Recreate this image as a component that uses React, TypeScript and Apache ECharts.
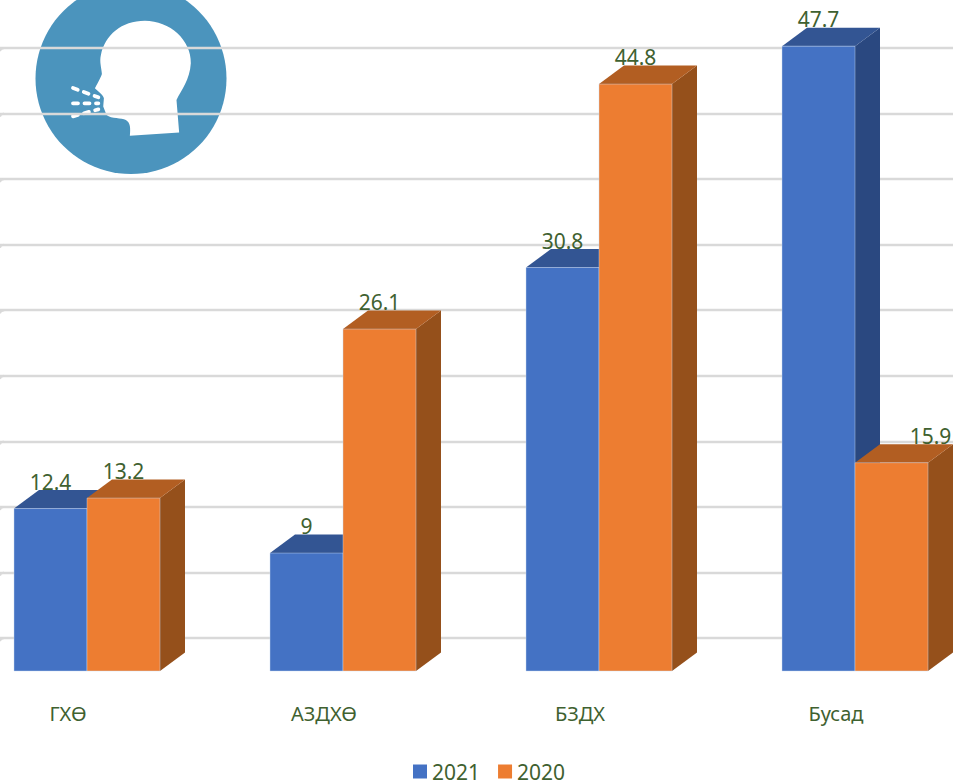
import React, { useEffect, useRef } from "react";
import * as echarts from "echarts";

const categories = ["ГХӨ", "АЗДХӨ", "БЗДХ", "Бусад"];
const values2021 = [12.4, 9, 30.8, 47.7];
const values2020 = [13.2, 26.1, 44.8, 15.9];
const gridTicks = [0, 5, 10, 15, 20, 25, 30, 35, 40, 45];

const FONT = "'Noto Sans', sans-serif";
const TEXT = "#3F6130";
const BAR_W = 73;
const DX = 25;
const DY = 18.5;

const HEAD =
  "M390 408 L538 398 L530 300 C545 270 570 240 573 190 C575 120 510 62 435 62 C365 62 315 105 303 165 C298 185 305 205 306 222 C302 235 290 255 285 265 C295 275 310 285 312 295 L310 320 L320 345 C335 358 365 352 378 360 C392 368 392 385 390 408 Z";

function makeBar(front: string, top: string, side: string, start: number) {
  return (_p: any, api: any) => {
    const i = api.value(0);
    const v = api.value(1);
    const c = api.coord([i, v]);
    const b = api.coord([i, 0]);
    const x = c[0] + start;
    const y = c[1];
    const y0 = b[1];
    const edge = { stroke: "rgba(200,215,240,0.55)", lineWidth: 0.8 };
    return {
      type: "group",
      children: [
        { type: "polygon", shape: { points: [[x + BAR_W, y], [x + BAR_W + DX, y - DY], [x + BAR_W + DX, y0 - DY], [x + BAR_W, y0]] }, style: { fill: side } },
        { type: "polygon", shape: { points: [[x, y], [x + DX, y - DY], [x + BAR_W + DX, y - DY], [x + BAR_W, y]] }, style: { fill: top } },
        { type: "rect", shape: { x, y, width: BAR_W, height: y0 - y }, style: { fill: front, ...edge } },
      ],
    };
  };
}

function makeLabel(start: number, labelShift: (i: number) => number) {
  return (_p: any, api: any) => {
    const i = api.value(0);
    const v = api.value(1);
    const c = api.coord([i, v]);
    return {
      type: "text",
      x: c[0] + start + BAR_W / 2 + labelShift(i),
      y: c[1] - 27,
      style: { text: String(v), fill: TEXT, font: `21px ${FONT}`, align: "center", verticalAlign: "middle" },
    };
  };
}

export default function App() {
  const ref = useRef<HTMLDivElement>(null);
  useEffect(() => {
    document.body.style.margin = "0";
    echarts.graphic.registerShape("headShape", echarts.graphic.extendPath(HEAD as any, {}) as any);
    const chart = echarts.init(ref.current!, null, { renderer: "svg" });
    const puff = (x1: number, y1: number, x2: number, y2: number) => ({
      type: "line",
      z: -1,
      shape: { x1: x1 / 3, y1: y1 / 3, x2: x2 / 3, y2: y2 / 3 },
      style: { stroke: "#fff", lineWidth: 3.8, lineCap: "round", lineDash: [5, 6.5] },
    });
    chart.setOption({
      animation: false,
      backgroundColor: "#ffffff",
      graphic: {
        elements: [
          { type: "circle", z: -2, shape: { cx: 131, cy: 78.5, r: 95.5 }, style: { fill: "#4B94BD" } },
          { type: "headShape", z: -1, x: 0, y: 0, scaleX: 1 / 3, scaleY: 1 / 3, shape: {}, style: { fill: "#ffffff" } },
          puff(219, 264, 295, 292),
          puff(219, 310, 295, 310),
          puff(219, 349, 295, 328),
        ],
      },
      legend: {
        data: ["2021", "2020"],
        left: 413,
        top: 761,
        padding: 0,
        itemWidth: 14,
        itemHeight: 14,
        itemGap: 18,
        icon: "rect",
        textStyle: { color: TEXT, fontSize: 21, fontFamily: FONT },
      },
      grid: [
        { left: -60, width: 1024, top: 48, height: 590, outerBoundsMode: "none" },
        { left: -41, width: 1024, top: 16, height: 655, outerBoundsMode: "none" },
      ],
      xAxis: [
        {
          gridIndex: 0, type: "category", data: categories,
          axisLine: { show: false }, axisTick: { show: false },
          axisLabel: { color: TEXT, fontSize: 20, fontFamily: FONT, margin: 65 },
        },
        {
          gridIndex: 1, type: "category", data: categories,
          axisLine: { show: false }, axisTick: { show: false }, axisLabel: { show: false },
        },
      ],
      yAxis: [
        {
          gridIndex: 0, type: "value", min: 0, max: 45, interval: 5,
          axisLabel: { show: false }, axisLine: { show: false }, axisTick: { show: false },
          splitLine: { show: true, lineStyle: { color: "#D9D9D9", width: 2.4 } },
        },
        {
          gridIndex: 1, type: "value", min: 0, max: 50,
          axisLabel: { show: false }, axisLine: { show: false }, axisTick: { show: false }, splitLine: { show: false },
        },
      ],
      series: [
        {
          type: "custom", name: "hooks", xAxisIndex: 0, yAxisIndex: 0, silent: true, z: 1,
          data: gridTicks.map((t) => [0, t]),
          renderItem: (_p: any, api: any) => {
            const y = api.coord([0, api.value(1)])[1];
            return {
              type: "polyline",
              shape: { points: [[0, y + 3], [1, y + 1], [4, y]] },
              style: { stroke: "#D9D9D9", lineWidth: 2, fill: "none" },
            };
          },
        },
        {
          type: "custom", name: "2021", xAxisIndex: 1, yAxisIndex: 1, z: 3,
          itemStyle: { color: "#4472C4" },
          data: values2021.map((v, i) => [i, v]),
          renderItem: makeBar("#4472C4", "#335593", "#2A4880", -BAR_W),
        },
        {
          type: "custom", name: "2020", xAxisIndex: 1, yAxisIndex: 1, z: 4,
          itemStyle: { color: "#ED7D31" },
          data: values2020.map((v, i) => [i, v]),
          renderItem: makeBar("#ED7D31", "#B25E22", "#95501B", 0),
        },
        {
          type: "custom", name: "labels2021", xAxisIndex: 1, yAxisIndex: 1, z: 5, silent: true,
          data: values2021.map((v, i) => [i, v]),
          renderItem: makeLabel(-BAR_W, () => 0),
        },
        {
          type: "custom", name: "labels2020", xAxisIndex: 1, yAxisIndex: 1, z: 5, silent: true,
          data: values2020.map((v, i) => [i, v]),
          renderItem: makeLabel(0, (i) => (i === 3 ? 39 : 0)),
        },
      ],
    });
    return () => chart.dispose();
  }, []);
  return <div ref={ref} style={{ width: 953, height: 783 }} />;
}
